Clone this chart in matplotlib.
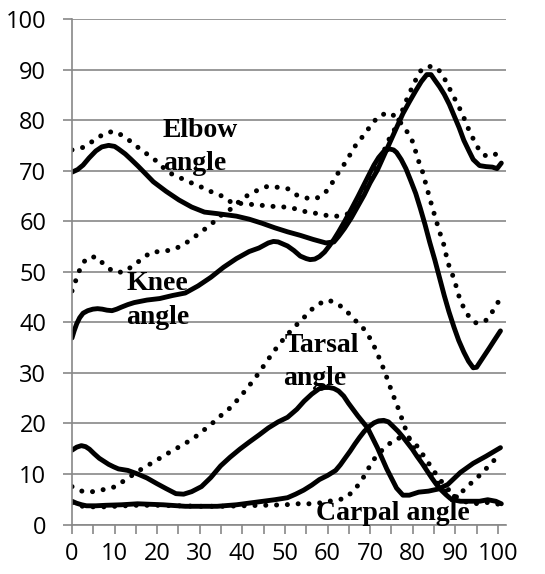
import matplotlib
matplotlib.use("Agg")
import matplotlib.pyplot as plt
from matplotlib.ticker import MultipleLocator

## Data

# Elbow angle, solid
elbow_solid_x = [0, 1.3, 2.6, 4, 5.6, 7, 8.6, 10, 10.9, 12.5, 13.9, 15.5, 16.9, 19.1, 22.1,
                 25.1, 28.1, 31.1, 34.1, 38.6, 41.6, 44.6, 47.6, 50.6, 53.6, 56.6, 59.6,
                 61.5, 62.6, 64, 65.6, 67, 68.6, 70, 71.7, 73.2, 74.7, 76.2, 77.7, 79.2,
                 80.7, 82, 83.3, 84.3, 85.2, 86.3, 87.4, 88.6, 89.7, 90.9, 92, 93.2, 94.2,
                 95.7, 97.2, 98.7, 99.8, 100.8]
elbow_solid_y = [69.7, 70.2, 71.1, 72.5, 73.9, 74.7, 75.0, 74.8, 74.3, 73.3, 72.2, 70.9, 69.7,
                 67.8, 65.9, 64.2, 62.8, 61.8, 61.5, 61.0, 60.4, 59.6, 58.7, 57.9, 57.2, 56.4,
                 55.7, 55.9, 57.0, 58.6, 60.7, 62.8, 65.2, 67.6, 70.1, 72.9, 75.7, 78.5, 81.3,
                 83.6, 85.8, 87.6, 89.0, 89.0, 87.9, 86.6, 85.1, 83.1, 80.9, 78.5, 76.0, 73.9,
                 72.2, 71.0, 70.8, 70.7, 70.4, 71.5]

# Knee angle, solid
knee_solid_x = [0, 0.5, 1.1, 1.8, 2.6, 3.7, 4.9, 6, 7.1, 8.2, 9.4, 10.5, 11.6, 13.1, 14.6,
                17.6, 20.6, 23.6, 26.6, 29.6, 32.6, 35.6, 38.6, 41.6, 43.9, 46.1, 47.3, 48.4,
                50.6, 52.1, 53.6, 55, 55.9, 57, 58.1, 59.3, 60.4, 61.5, 62.6, 64.1, 65.6,
                67.1, 68.6, 69.8, 70.9, 72, 73.2, 74.5, 75.5, 76.2, 77.3, 78.4, 79.5, 80.7,
                81.8, 82.9, 84, 85.2, 86.3, 87.4, 88.5, 89.7, 90.8, 92, 93.1, 94.2, 95, 95.7,
                96.8, 97.9, 99.2, 100.6]
knee_solid_y = [36.9, 38.3, 39.7, 40.9, 41.8, 42.3, 42.6, 42.7, 42.6, 42.4, 42.3, 42.6, 43.0,
                43.5, 43.9, 44.4, 44.7, 45.3, 45.8, 47.2, 48.9, 50.9, 52.6, 54.0, 54.7, 55.7,
                56.0, 55.9, 55.1, 54.2, 53.1, 52.6, 52.4, 52.5, 53.0, 53.9, 55.1, 56.4, 57.9,
                60.1, 62.4, 64.8, 67.3, 69.3, 71.1, 72.6, 73.8, 74.3, 74.1, 73.6, 72.2, 70.4,
                68.1, 65.5, 62.5, 59.3, 55.8, 52.3, 48.8, 45.3, 42.1, 39.0, 36.4, 34.1, 32.3,
                31.0, 31.1, 32.0, 33.4, 34.8, 36.5, 38.3]

# Elbow angle, dotted
elbow_dot_x = [0, 2.6, 5.2, 7.5, 9.7, 12, 14.2, 16.5, 18.7, 20.6, 22.5, 25.1, 27.4, 30, 32.2,
               34.9, 37.1, 39.7, 42.4, 45, 47.6, 50, 52.9, 55.5, 58.1, 60.4, 62.5, 65, 67.5,
               70, 72.5, 74.7, 76.2, 77.3, 78.4, 79.5, 80.3, 81.4, 82.5, 83.7, 84.7, 85.6,
               86.5, 87.4, 88.2, 88.9, 90, 91.2, 92.3, 93.5, 94.6, 95.7, 97.2, 98.7, 100.2]
elbow_dot_y = [74.1, 74.6, 76.0, 77.3, 77.8, 76.9, 75.5, 73.9, 72.7, 71.3, 69.7, 68.7, 67.8,
               66.9, 66.0, 65.1, 63.9, 63.5, 63.3, 63.1, 62.9, 62.8, 62.4, 61.7, 61.5, 61.0,
               61.0, 61.5, 64.5, 68.5, 72.5, 76.7, 78.8, 81.3, 83.7, 85.8, 87.2, 89.3, 90.3,
               90.6, 90.6, 90.4, 89.5, 88.3, 87.0, 85.8, 84.0, 82.0, 79.9, 77.4, 75.7, 73.9,
               72.9, 72.9, 73.6]

# Knee angle, dotted
knee_dot_x = [0, 0.9, 1.9, 3.3, 5.6, 7.6, 9.7, 12, 14.4, 16.5, 18.6, 21.2, 23.8, 26.1, 28.3,
              30.5, 32.7, 34.7, 37.1, 39, 41.2, 43.5, 45.9, 48.4, 50.7, 52.9, 55.5, 57.4,
              59.6, 61.1, 62.6, 64.1, 65.6, 66.8, 68.6, 70.2, 72, 74.3, 76.2, 78, 79.5, 80.3,
              81.1, 82.2, 83, 84.1, 85.2, 86.3, 87.4, 88.2, 89.3, 90.1, 90.8, 92, 93.5, 95,
              97.2, 98.7, 100.2]
knee_dot_y = [46.2, 48.3, 50.6, 52.6, 53.0, 51.4, 50.0, 49.9, 51.2, 52.6, 53.9, 54.0, 54.4,
              55.3, 56.6, 58.0, 59.4, 61.0, 62.3, 63.7, 65.1, 66.1, 66.9, 66.7, 66.4, 65.1,
              64.5, 64.5, 65.8, 67.6, 69.7, 71.5, 73.6, 75.3, 77.1, 79.0, 80.8, 81.5, 80.6,
              78.5, 76.7, 75.0, 72.5, 70.1, 67.6, 64.2, 61.0, 57.9, 55.1, 51.9, 49.5, 47.4,
              45.3, 42.8, 40.7, 39.8, 40.4, 42.1, 44.2]

# Tarsal angle, solid
tarsal_solid_x = [0, 1.1, 2.2, 3.2, 4.1, 5.2, 6.4, 7.5, 8.6, 9.8, 10.9, 13.1, 15.4, 17.6, 19.9,
                  22.1, 24.4, 26.2, 28.1, 30.4, 32.6, 34.9, 37.1, 39.4, 41.6, 43.9, 46.1,
                  48.4, 50.6, 52.8, 54.5, 56.3, 58.1, 59.3, 60.4, 61.5, 62.6, 63.8, 64.9,
                  67.1, 69.4, 71.7, 73.9, 76.2, 77.7, 79.2, 81.4, 83.7, 85.9, 88.2, 91.2,
                  94.2, 97.2, 100.6]
tarsal_solid_y = [14.7, 15.3, 15.6, 15.4, 14.9, 14.0, 13.1, 12.5, 11.9, 11.4, 11.0, 10.7, 10.0,
                  9.2, 8.1, 7.1, 6.1, 6.0, 6.5, 7.5, 9.3, 11.6, 13.3, 14.9, 16.3, 17.7, 19.1,
                  20.3, 21.2, 22.8, 24.4, 25.8, 26.9, 27.1, 27.1, 26.9, 26.4, 25.4, 24.0, 21.5,
                  19.1, 15.2, 11.0, 7.2, 5.8, 5.8, 6.4, 6.6, 7.0, 7.9, 10.3, 12.1, 13.5, 15.2]

# Tarsal angle, dotted
tarsal_dot_x = [0, 2.6, 5.2, 7.9, 10.3, 12.6, 14.8, 16.9, 19.3, 21.7, 24, 26.3, 28.6, 30.7,
                32.9, 34.9, 36.9, 38.8, 40.5, 42.2, 43.9, 45.5, 47.1, 48.7, 50.4, 52.1, 54,
                55.9, 58.1, 60.2, 62.5, 64.7, 66.6, 68.5, 70, 71.2, 72.3, 73.3, 74.2, 75.2,
                76.2, 77.1, 78, 79, 80.1, 81.3, 82.5, 84, 85.5, 87, 88.6, 90.1, 91.6, 93.1,
                94.6, 96.5, 98.3, 100.2]
tarsal_dot_y = [7.5, 6.5, 6.5, 7.0, 7.5, 8.9, 10.1, 11.3, 12.4, 13.7, 14.8, 15.9, 17.1, 18.5,
                20.0, 21.5, 22.9, 24.6, 26.3, 28.1, 30.0, 32.0, 33.9, 35.7, 37.4, 39.0, 40.5,
                42.3, 43.7, 44.4, 43.6, 42.0, 40.3, 38.7, 36.8, 34.8, 32.6, 30.5, 28.4, 26.0,
                23.9, 21.8, 19.6, 17.4, 15.3, 13.7, 12.0, 10.2, 8.6, 7.2, 5.8, 5.5, 6.5, 7.7,
                8.9, 10.3, 12.1, 13.5]

# Carpal angle, solid
carpal_solid_x = [0, 1.1, 2.3, 3.4, 5.6, 7.9, 11.6, 15.4, 21.4, 26.6, 30, 34.1, 38.6, 43.1,
                  47.6, 50.6, 52.5, 54.4, 56.3, 58.1, 60, 61.9, 63, 64.1, 65.3, 66.4, 67.5,
                  68.6, 69.8, 70.9, 72, 73.2, 74.3, 75.4, 76.6, 77.7, 78.8, 79.9, 81, 82.2,
                  83.3, 84.4, 85.5, 86.7, 87.8, 88.9, 90, 91.2, 93.5, 95.7, 97.6, 99.5, 100.8]
carpal_solid_y = [4.6, 4.2, 3.9, 3.7, 3.7, 3.8, 3.9, 4.1, 3.9, 3.6, 3.6, 3.6, 3.9, 4.4, 4.9,
                  5.3, 6.0, 6.8, 7.8, 8.9, 9.7, 10.7, 11.8, 13.1, 14.5, 15.9, 17.2, 18.4, 19.4,
                  20.1, 20.5, 20.6, 20.3, 19.4, 18.4, 17.3, 16.1, 14.9, 13.5, 12.1, 10.7, 9.3,
                  8.0, 6.8, 5.9, 5.1, 4.8, 4.6, 4.6, 4.6, 4.9, 4.6, 4.1]

# Carpal angle, dotted
carpal_dot_x = [0, 2.5, 5, 7.5, 10, 15, 20, 25, 30, 35, 40, 45, 50, 53, 56, 58.5, 61, 63.8, 66,
                67.9, 69.2, 70.4, 72.2, 73.9, 76.2, 78.4, 80.2, 82, 84, 86, 88, 90, 92, 94,
                96, 98, 100.2]
carpal_dot_y = [4.3, 3.6, 3.5, 3.5, 3.6, 3.8, 3.8, 3.7, 3.6, 3.6, 3.7, 3.8, 3.9, 4.1, 4.1, 4.3,
                4.7, 5.1, 6.5, 8.6, 10.4, 12.4, 14.2, 15.6, 17.0, 17.3, 16.5, 14.3, 11.8, 9.3,
                7.2, 5.6, 4.6, 4.1, 4.2, 4.4, 4.0]

x_ticks = [0, 10, 20, 30, 40, 50, 60, 70, 80, 90, 100]
y_ticks = [0, 10, 20, 30, 40, 50, 60, 70, 80, 90, 100]

## Figure

grey = "#888888"
tick_font = "Open Sans"
label_font = "Liberation Serif"

fig = plt.figure(figsize=(5.45, 5.74), dpi=100)
ax = fig.add_axes([72 / 545, 49.5 / 574, 434 / 545, 505.5 / 574])

solid = dict(color="black", lw=3.5, solid_capstyle="round", solid_joinstyle="round")
dotted = dict(color="black", lw=3.6, linestyle=(0, (0.01, 2.15)), dash_capstyle="round")

ax.plot(elbow_dot_x, elbow_dot_y, **dotted)
ax.plot(knee_dot_x, knee_dot_y, **dotted)
ax.plot(tarsal_dot_x, tarsal_dot_y, **dotted)
ax.plot(carpal_dot_x, carpal_dot_y, **dotted)
ax.plot(elbow_solid_x, elbow_solid_y, **solid)
ax.plot(knee_solid_x, knee_solid_y, **solid)
ax.plot(tarsal_solid_x, tarsal_solid_y, **solid)
ax.plot(carpal_solid_x, carpal_solid_y, **solid)

ax.set_xlim(0, 101.9)
ax.set_ylim(0, 100)

ax.set_xticks(x_ticks)
ax.xaxis.set_minor_locator(MultipleLocator(5))
ax.set_yticks(y_ticks)
ax.set_xticklabels([str(v) for v in x_ticks], fontfamily=tick_font, fontsize=17)
ax.set_yticklabels([str(v) for v in y_ticks], fontfamily=tick_font, fontsize=17)

ax.tick_params(axis="x", which="both", direction="out", length=6.5, width=1.2,
               color=grey, pad=6)
ax.tick_params(axis="y", which="both", direction="out", length=6.5, width=1.2,
               color=grey, pad=12)

ax.grid(axis="y", color=grey, lw=1.2)
ax.set_axisbelow(True)
for side in ["top", "right"]:
    ax.spines[side].set_visible(False)
for side in ["left", "bottom"]:
    ax.spines[side].set_color(grey)
    ax.spines[side].set_linewidth(1.2)

## Curve labels

lab = dict(fontfamily=label_font, fontweight="bold", fontsize=20, va="baseline",
           color="black")
ax.text(21.2, 76.7, "Elbow", **lab)
ax.text(21.3, 70.1, "angle", **lab)
ax.text(12.7, 46.3, "Knee", **lab)
ax.text(12.6, 39.7, "angle", **lab)
ax.text(50.0, 34.1, "Tarsal", **lab)
ax.text(49.6, 27.5, "angle", **lab)
ax.text(57.4, 0.9, "Carpal angle", **lab)

fig.savefig("out.png", dpi=100)
